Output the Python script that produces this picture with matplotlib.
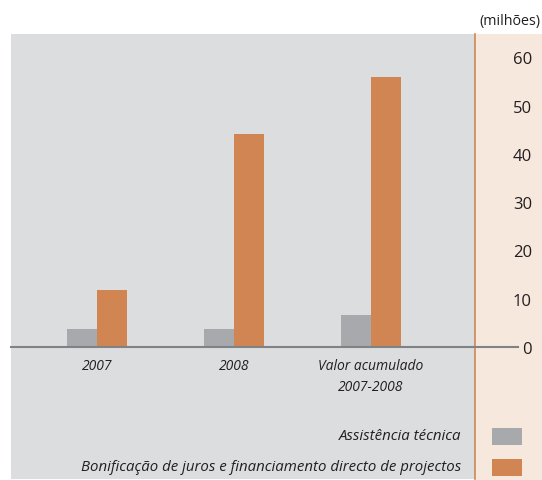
import numpy as np
import matplotlib
matplotlib.use("Agg")
import matplotlib.pyplot as plt
from matplotlib.patches import Rectangle

# values in millions
categories = ["2007", "2008", "Valor acumulado\n2007-2008"]
assistencia = [3.7, 3.7, 6.6]
bonificacao = [11.8, 44.1, 55.9]
series_names = ["Assistência técnica",
                "Bonificação de juros e financiamento directo de projectos"]
yticks = [0, 10, 20, 30, 40, 50, 60]

grey_bg = "#DCDDDF"
peach_bg = "#F7E8DE"
grey_bar = "#A7A9AC"
orange = "#D08552"
txt = "#231F20"

plt.rcParams['font.family'] = ['Open Sans', 'DejaVu Sans']

W, H = 542, 481
fig = plt.figure(figsize=(W / 100, H / 100), dpi=100)
fig.patch.set_facecolor("white")

# peach panel at the right (behind the axes so ticks and zero line show)
fig.patches.append(Rectangle((476 / W, 0), 1 - 476 / W, 1 - 35 / H,
                             transform=fig.transFigure, facecolor=peach_bg,
                             edgecolor="none", zorder=-1))

ax = fig.add_axes([11 / W, 1 / H, 464 / W, 445 / H])
ax.set_zorder(1)
ax.set_facecolor(grey_bg)

x = np.arange(len(categories))
w = 0.22
ax.bar(x - w / 2, assistencia, width=w, color=grey_bar, zorder=2)
ax.bar(x + w / 2, bonificacao, width=w, color=orange, zorder=2)

ax.set_xlim(-0.63, 2.76)
ax.set_ylim(-27.3, 64.8)

for s in ["left", "top", "bottom"]:
    ax.spines[s].set_visible(False)
ax.spines["right"].set_color(orange)
ax.spines["right"].set_linewidth(1.2)

# y ticks on the right, in the peach panel
ax.yaxis.tick_right()
ax.set_yticks(yticks)
ax.tick_params(axis="y", length=0, pad=41, labelsize=12, labelcolor=txt)
for lab in ax.get_yticklabels():
    lab.set_horizontalalignment("right")
ax.set_xticks([])

# zero line running into the peach panel
ax.plot([0, (518 - 11) / 464], [0, 0], color="#808285", lw=1.5,
        transform=ax.get_yaxis_transform(), clip_on=False, zorder=3)

for xi, cat in zip(x, categories):
    ax.text(xi, -2.3, cat, ha="center", va="top", style="italic",
            fontsize=10, color=txt, linespacing=1.5)

fig.text(540 / W, 1 - 21 / H, "(milhões)", ha="right", va="center",
         fontsize=10.3, color=txt)

# legend drawn by hand: text right aligned, swatch in the peach panel
for i, (name, col) in enumerate(zip(series_names, [grey_bar, orange])):
    yc = 437 + i * 31
    fig.text(461 / W, 1 - yc / H, name, ha="right", va="center",
             style="italic", fontsize=10.8, color=txt)
    fig.patches.append(Rectangle((492 / W, 1 - (yc + 8.5) / H), 30 / W, 17 / H,
                                 transform=fig.transFigure, facecolor=col,
                                 edgecolor="none"))

fig.savefig("out.png", dpi=100)
